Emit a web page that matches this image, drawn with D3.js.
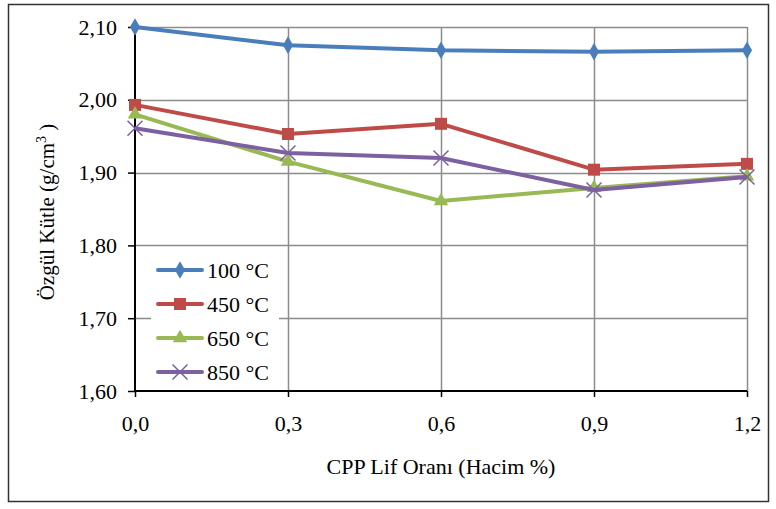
<!DOCTYPE html>
<html>
<head>
<meta charset="utf-8">
<script src="https://cdn.jsdelivr.net/npm/d3@7"></script>
<style>
  body { margin: 0; background: #fff; }
  text { font-family: "Times New Roman", "Liberation Serif", serif; fill: #000; }
</style>
</head>
<body>
<div id="chart-area"></div>
<script>
// Data
let xValues = [0.0, 0.3, 0.6, 0.9, 1.2];
let xTickLabels = ["0,0", "0,3", "0,6", "0,9", "1,2"];
let yTicks = [1.6, 1.7, 1.8, 1.9, 2.0, 2.1];
let seriesNames = ["100 °C", "450 °C", "650 °C", "850 °C"];
let s100 = [2.100, 2.075, 2.068, 2.066, 2.068];
let s450 = [1.993, 1.953, 1.967, 1.904, 1.912];
let s650 = [1.980, 1.915, 1.861, 1.879, 1.895];
let s850 = [1.961, 1.927, 1.920, 1.876, 1.894];

let colors = ["#4A7EBB", "#BE4B48", "#98B954", "#7D60A0"];
let markers = ["diamond", "square", "triangle", "cross"];
let series = [s100, s450, s650, s850].map((vals, i) => ({
  name: seriesNames[i], values: vals, color: colors[i], marker: markers[i]
}));

// SVG container
let W = 776, H = 509;
let margin = { top: 27, right: 29, bottom: 118, left: 135 };
let width = W - margin.left - margin.right,
  height = H - margin.top - margin.bottom;

let root = d3.select("#chart-area").append("svg")
  .attr("width", W).attr("height", H);

// outer frame
root.append("rect")
  .attr("x", 8.5).attr("y", 4.5)
  .attr("width", 760).attr("height", 497)
  .attr("fill", "none").attr("stroke", "#333").attr("stroke-width", 1.5);

let svg = root.append("g")
  .attr("transform", "translate(" + margin.left + "," + margin.top + ")");

// Scales
let x = d3.scaleLinear().domain([0, 1.2]).range([0, width]);
let y = d3.scaleLinear().domain([1.6, 2.1]).range([height, 0]);

// Gridlines
svg.append("g").selectAll("line.hg")
  .data(yTicks.slice(1))
  .enter().append("line")
  .attr("x1", 0).attr("x2", width)
  .attr("y1", d => Math.round(y(d)) + 0.5).attr("y2", d => Math.round(y(d)) + 0.5)
  .attr("stroke", "#8c8c8c").attr("stroke-width", 1.5);

svg.append("g").selectAll("line.vg")
  .data(xValues.slice(1))
  .enter().append("line")
  .attr("x1", d => Math.round(x(d)) + 0.5).attr("x2", d => Math.round(x(d)) + 0.5)
  .attr("y1", 0).attr("y2", height)
  .attr("stroke", "#8c8c8c").attr("stroke-width", 1.5);

// Axes
let yAxis = d3.axisLeft(y).tickValues(yTicks)
  .tickFormat(d => d3.format(".2f")(d).replace(".", ","))
  .tickSize(7).tickPadding(11);
let xAxis = d3.axisBottom(x).tickValues(xValues)
  .tickFormat((d, i) => xTickLabels[i])
  .tickSize(6).tickPadding(18);

let gy = svg.append("g").attr("class", "axis y-axis").call(yAxis);
let gx = svg.append("g").attr("class", "axis x-axis")
  .attr("transform", "translate(0," + height + ")").call(xAxis);

[gx, gy].forEach(g => {
  g.attr("font-family", null);
  g.select(".domain").attr("stroke", "#000").attr("stroke-width", 2);
  g.selectAll(".tick line").attr("stroke", "#000").attr("stroke-width", 1.5);
  g.selectAll(".tick text").style("font-size", "22px");
});
gy.select(".domain").attr("d", "M0," + height + "V0");
gx.select(".domain").attr("d", "M0,0H" + width);

// Axis titles
root.append("text")
  .attr("x", 441).attr("y", 474)
  .attr("text-anchor", "middle")
  .style("font-size", "22px")
  .text("CPP Lif Oranı (Hacim %)");

let yt = root.append("text")
  .attr("transform", "translate(54," + (margin.top + height / 2 + 3) + ") rotate(-90)")
  .attr("text-anchor", "middle")
  .style("font-size", "21px");
yt.append("tspan").text("Özgül Kütle (g/cm");
yt.append("tspan").attr("dy", -8).style("font-size", "14px").text("3");
yt.append("tspan").attr("dy", 8).text(" )");

// Marker drawing
function drawMarker(g, type, color, size) {
  if (type === "diamond") {
    g.append("path").attr("d", d3.symbol(d3.symbolDiamond, size * 9)())
      .attr("fill", color);
  } else if (type === "square") {
    g.append("rect").attr("x", -size / 2 - 1).attr("y", -size / 2 - 1)
      .attr("width", size + 2).attr("height", size + 2).attr("fill", color);
  } else if (type === "triangle") {
    g.append("path").attr("d", d3.symbol(d3.symbolTriangle, size * 9)())
      .attr("fill", color);
  } else {
    let r = size * 0.75;
    g.append("path")
      .attr("d", "M" + (-r) + "," + (-r) + "L" + r + "," + r + "M" + (-r) + "," + r + "L" + r + "," + (-r))
      .attr("stroke", color).attr("stroke-width", 1.5).attr("fill", "none");
  }
}

// Lines
let line = d3.line().x((d, i) => x(xValues[i])).y(d => y(d));

series.forEach(s => {
  let g = svg.append("g");
  g.append("path").datum(s.values)
    .attr("d", line)
    .attr("fill", "none").attr("stroke", s.color)
    .attr("stroke-width", 4).attr("stroke-linejoin", "round");
  s.values.forEach((v, i) => {
    let m = g.append("g").attr("transform", "translate(" + x(xValues[i]) + "," + y(v) + ")");
    drawMarker(m, s.marker, s.color, 10);
  });
});

// Legend
let legend = svg.append("g").attr("transform", "translate(16, 226)");
legend.append("rect").attr("x", 0).attr("y", 0)
  .attr("width", 128).attr("height", 136).attr("fill", "#fff");

series.forEach((s, i) => {
  let ly = 17 + i * 34;
  let lg = legend.append("g").attr("transform", "translate(0," + ly + ")");
  lg.append("line").attr("x1", 7).attr("x2", 51).attr("y1", 0).attr("y2", 0)
    .attr("stroke", s.color).attr("stroke-width", 4).attr("stroke-linecap", "round");
  let m = lg.append("g").attr("transform", "translate(29,0)");
  drawMarker(m, s.marker, s.color, 10);
  lg.append("text").attr("x", 56).attr("y", 8)
    .style("font-size", "22px").text(s.name);
});
</script>
</body>
</html>
